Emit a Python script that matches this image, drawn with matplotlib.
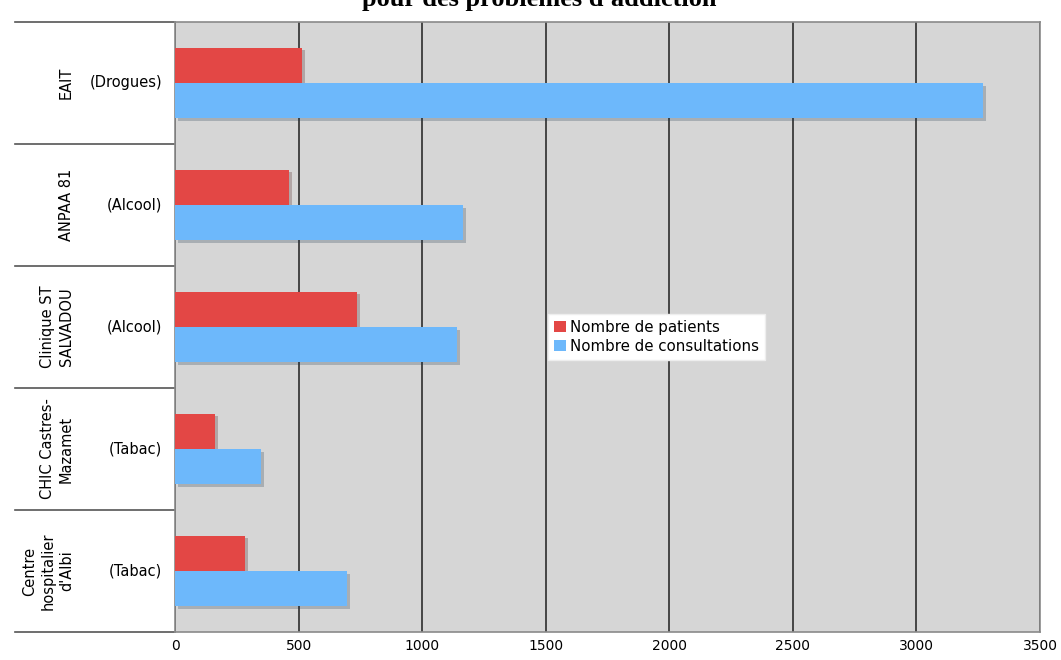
import matplotlib
matplotlib.use("Agg")
import matplotlib.pyplot as plt
import matplotlib.patheffects as pe
import numpy as np

# data
institutions = ["EAIT", "ANPAA 81", "Clinique ST\nSALVADOU",
                "CHIC Castres-\nMazamet", "Centre\nhospitalier\nd'Albi"]
substances = ["(Drogues)", "(Alcool)", "(Alcool)", "(Tabac)", "(Tabac)"]
patients = [514, 461, 737, 162, 283]
consultations = [3270, 1165, 1141, 348, 696]
xticks = [0, 500, 1000, 1500, 2000, 2500, 3000, 3500]

red = "#e34745"
blue = "#6db8fb"

fig = plt.figure(figsize=(10.61, 6.6), dpi=100)
ax = fig.add_axes([175 / 1061, 28 / 660, 865 / 1061, 610 / 660])
ax.set_facecolor("#d6d6d6")

y = np.arange(len(institutions))
h = 0.29
shadow = [pe.SimplePatchShadow(offset=(2, -2), alpha=0.25), pe.Normal()]
ax.barh(y - h / 2, patients, height=h, color=red, label="Nombre de patients",
        path_effects=shadow, zorder=3)
ax.barh(y + h / 2, consultations, height=h, color=blue,
        label="Nombre de consultations", path_effects=shadow, zorder=3)

ax.set_xlim(0, 3500)
ax.set_ylim(len(institutions) - 0.5, -0.5)
ax.set_xticks(xticks)
ax.set_xticklabels([str(t) for t in xticks], fontsize=10)
ax.tick_params(axis="x", length=0, pad=5)
ax.set_yticks([])
ax.grid(axis="x", color="#3a3a3a", linewidth=1.3, zorder=1)
ax.set_axisbelow(True)
for s in ax.spines.values():
    s.set_color("#8a8a8a")
    s.set_linewidth(1.2)

# category separators and two-level labels
trans = matplotlib.transforms.blended_transform_factory(ax.transAxes, ax.transData)
for b in np.arange(len(institutions) + 1) - 0.5:
    ax.plot([-160 / 865, 0], [b, b], color="#555555", linewidth=1.2,
            transform=trans, clip_on=False)
for i, (name, sub) in enumerate(zip(institutions, substances)):
    ax.text(-13 / 865, i, sub, transform=trans, ha="right", va="center",
            fontsize=10.5)
    ax.text(-101 / 865, i, name, transform=trans, ha="right", va="center",
            rotation=90, multialignment="center", fontsize=10.5,
            linespacing=1.3)

leg = ax.legend(loc="center left", bbox_to_anchor=(0.431, 0.484), fontsize=10.8,
                frameon=True, fancybox=False, edgecolor="#eeeeee",
                handlelength=0.8, handleheight=0.8, handletextpad=0.3,
                borderpad=0.4, labelspacing=0.25, borderaxespad=0)
leg.get_frame().set_facecolor("white")
leg.get_frame().set_alpha(1)
for hd in leg.legend_handles:
    hd.set_path_effects([])

fig.text(0.508, 1 - 6 / 660, "pour des problèmes d'addiction",
         ha="center", va="baseline", fontsize=19, fontweight="bold",
         family="Liberation Serif")

fig.savefig("out.png", dpi=100)
